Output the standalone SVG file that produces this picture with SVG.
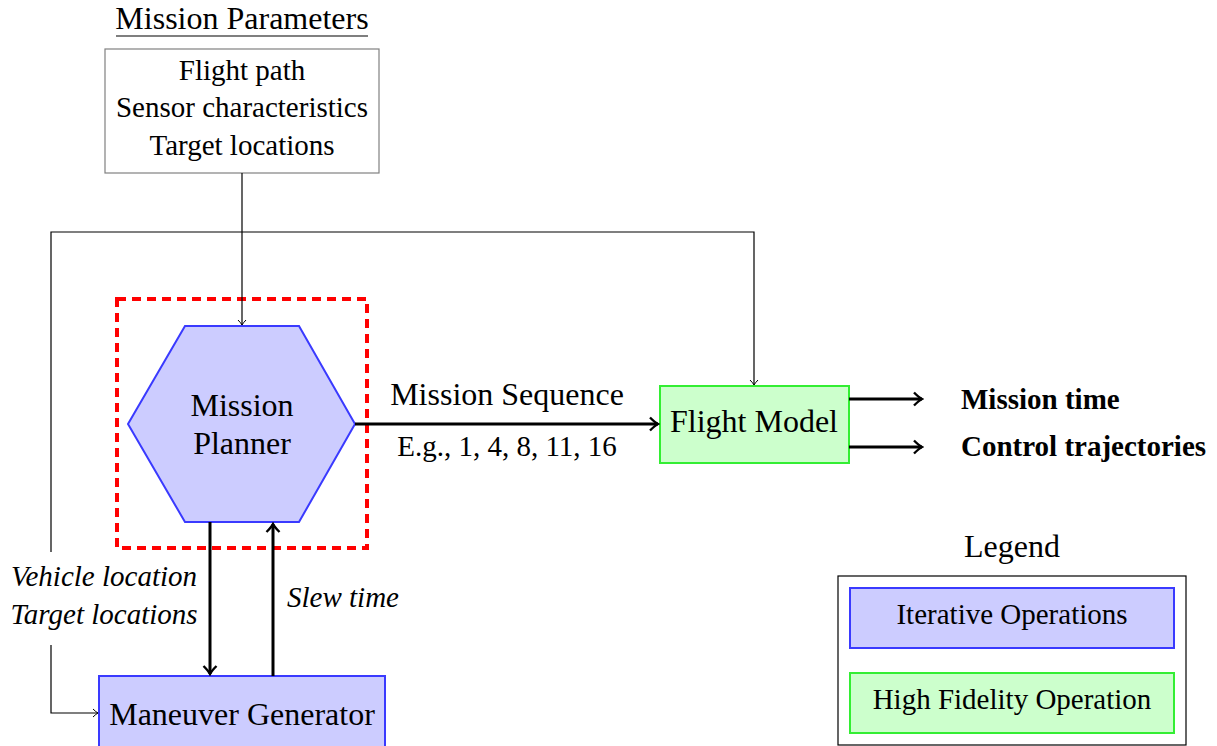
<svg xmlns="http://www.w3.org/2000/svg" width="1217" height="746" viewBox="0 0 1217 746">
  <style>
    text { font-family: "Liberation Serif", "Times New Roman", serif; fill: #000; }
    .big { font-size: 32px; }
    .sm { font-size: 29px; }
    .it { font-style: italic; }
    .bd { font-weight: bold; }
    .mid { text-anchor: middle; }
    .iter { fill: #ccccff; stroke: #3a3aff; stroke-width: 2; }
    .hifi { fill: #ccffcc; stroke: #33ee33; stroke-width: 2; }
    .thin { fill: none; stroke: #000; stroke-width: 1.2; }
    .thick { fill: none; stroke: #000; stroke-width: 3; }
  </style>
  <defs>
    <marker id="arrSmall" viewBox="-6 -5 8 10" markerWidth="8" markerHeight="10" refX="0" refY="0" orient="auto" markerUnits="userSpaceOnUse">
      <path d="M-5,-4 Q-2,-1 0,0 Q-2,1 -5,4" fill="none" stroke="#000" stroke-width="1"/>
    </marker>
    <marker id="arrBig" viewBox="-10 -8 12 16" markerWidth="12" markerHeight="16" refX="0" refY="0" orient="auto" markerUnits="userSpaceOnUse">
      <path d="M-8,-6.5 Q-3,-1.5 0,0 Q-3,1.5 -8,6.5" fill="none" stroke="#000" stroke-width="2.4"/>
    </marker>
  </defs>

  <!-- mission parameters -->
  <g id="mission-parameters">
    <text class="big mid" x="242" y="29">Mission Parameters</text>
    <line x1="116" y1="36" x2="368" y2="36" stroke="#000" stroke-width="1.2"/>
    <rect x="105" y="49" width="274" height="124" fill="#fff" stroke="#808080" stroke-width="1.2"/>
    <text class="sm mid" x="242" y="80">Flight path</text>
    <text class="sm mid" x="242" y="117">Sensor characteristics</text>
    <text class="sm mid" x="242" y="155">Target locations</text>
  </g>

  <!-- dashed boundary around the planner -->
  <g id="planner-boundary">
    <rect x="117" y="299" width="250" height="249" fill="none" stroke="#ff0000" stroke-width="4" stroke-dasharray="9,6"/>
  </g>

  <g id="mission-planner">
    <polygon class="iter" points="128,424 185,326 299,326 355,424 299,522 185,522"/>
    <text class="big mid" x="242" y="416">Mission</text>
    <text class="big mid" x="242" y="454">Planner</text>
  </g>

  <g id="flight-model">
    <rect class="hifi" x="660" y="386" width="189" height="77"/>
    <text class="big mid" x="754" y="432">Flight Model</text>
  </g>

  <g id="maneuver-generator">
    <rect class="iter" x="99" y="676" width="286" height="80"/>
    <text class="big mid" x="242" y="725">Maneuver Generator</text>
  </g>

  <g id="outputs">
    <text class="sm bd" x="961" y="409">Mission time</text>
    <text class="sm bd" x="961" y="456">Control trajectories</text>
  </g>

  <g id="legend">
    <text class="big mid" x="1012" y="557">Legend</text>
    <rect x="838" y="576" width="348" height="169" fill="#fff" stroke="#000" stroke-width="1.2"/>
    <rect class="iter" x="850" y="588" width="324" height="60"/>
    <text class="sm mid" x="1012" y="624">Iterative Operations</text>
    <rect class="hifi" x="850" y="673" width="324" height="60"/>
    <text class="sm mid" x="1012" y="709">High Fidelity Operation</text>
  </g>

  <g id="connectors">
    <!-- parameters into planner -->
    <path class="thin" d="M242,173 V325" stroke="#555" marker-end="url(#arrSmall)"/>
    <!-- loop to flight model -->
    <path class="thin" d="M51,552 V232 H754 V385" marker-end="url(#arrSmall)"/>
    <!-- loop into maneuver generator -->
    <path class="thin" d="M51,645 V713 H98" marker-end="url(#arrSmall)"/>
    <!-- planner to flight model -->
    <path class="thick" d="M355,424 H658" marker-end="url(#arrBig)"/>
    <text class="big mid" x="507" y="405">Mission Sequence</text>
    <text class="sm mid" x="507" y="456">E.g., 1, 4, 8, 11, 16</text>
    <!-- planner / maneuver generator exchange -->
    <path class="thick" d="M210,522 V674" marker-end="url(#arrBig)"/>
    <path class="thick" d="M273,676 V524" marker-end="url(#arrBig)"/>
    <text class="sm it mid" x="104" y="586">Vehicle location</text>
    <text class="sm it mid" x="104" y="624">Target locations</text>
    <text class="sm it" x="287" y="607">Slew time</text>
    <!-- outputs -->
    <path class="thick" d="M849,399 H922" marker-end="url(#arrBig)"/>
    <path class="thick" d="M849,447 H922" marker-end="url(#arrBig)"/>
  </g>
</svg>
